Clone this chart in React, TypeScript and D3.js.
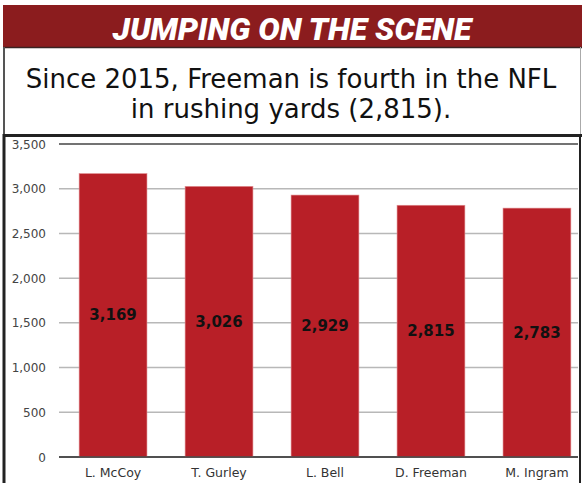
import React from "react";
import * as d3 from "d3";

const players = ["L. McCoy", "T. Gurley", "L. Bell", "D. Freeman", "M. Ingram"];
const yards = [3169, 3026, 2929, 2815, 2783];
const yTicks = [0, 500, 1000, 1500, 2000, 2500, 3000, 3500];

const W = 582;
const H = 483;

export default function App() {
  const x = d3
    .scaleBand<string>()
    .domain(players)
    .range([59, 591])
    .paddingInner(0.36)
    .paddingOuter(0.19);
  const y = d3.scaleLinear().domain([0, 3500]).range([457, 144]);
  const fmt = d3.format(",");
  const font = "'DejaVu Sans', Verdana, sans-serif";

  return (
    <svg
      width={W}
      height={H}
      style={{ position: "absolute", left: 0, top: 0, background: "#fff" }}
    >
      {/* title band */}
      <rect x={3} y={5} width={579} height={42} fill="#8b1c1e" />
      <text
        x={292}
        y={40}
        textAnchor="middle"
        fill="#fff"
        fontFamily="Roboto, 'Liberation Sans', Arial, sans-serif"
        fontWeight="900"
        fontStyle="italic"
        fontSize={32}
      >
        JUMPING ON THE SCENE
      </text>
      <line x1={3} x2={582} y1={47.5} y2={47.5} stroke="#3a2222" strokeWidth={1.5} />
      {/* subtitle box */}
      <line x1={4} x2={4} y1={47} y2={136} stroke="#555" strokeWidth={2} />
      <line x1={580.5} x2={580.5} y1={47} y2={136} stroke="#aaa" strokeWidth={1} />
      <text
        x={291}
        y={88}
        textAnchor="middle"
        fill="#111"
        fontFamily={font}
        fontSize={26}
      >
        Since 2015, Freeman is fourth in the NFL
      </text>
      <text
        x={291}
        y={118}
        textAnchor="middle"
        fill="#111"
        fontFamily={font}
        fontSize={26}
      >
        in rushing yards (2,815).
      </text>
      {/* chart box borders */}
      <line x1={3} x2={582} y1={135.5} y2={135.5} stroke="#222" strokeWidth={3} />
      <line x1={4} x2={4} y1={134} y2={483} stroke="#222" strokeWidth={3} />
      <line x1={580} x2={580} y1={134} y2={483} stroke="#222" strokeWidth={2} />

      {/* gridlines */}
      {yTicks.map((t) => (
        <line
          key={t}
          x1={59}
          x2={578}
          y1={y(t)}
          y2={y(t)}
          stroke={t === 0 || t === 3500 ? "#444" : "#b8b8b8"}
          strokeWidth={1.5}
        />
      ))}
      {/* y tick labels */}
      {yTicks.map((t) => (
        <text
          key={"l" + t}
          x={46}
          y={y(t) + 4.5}
          textAnchor="end"
          fill="#444"
          fontFamily={font}
          fontSize={12}
        >
          {fmt(t)}
        </text>
      ))}
      {/* bars */}
      {players.map((p, i) => (
        <rect
          key={p}
          x={x(p)}
          y={y(yards[i])}
          width={x.bandwidth()}
          height={y(0) - y(yards[i])}
          fill="#b81f27"
          stroke="#e08a8e"
          strokeWidth={0.6}
        />
      ))}
      {players.map((p, i) => (
        <text
          key={"v" + p}
          x={(x(p) as number) + x.bandwidth() / 2}
          y={(y(yards[i]) + y(0)) / 2 + 5}
          textAnchor="middle"
          fill="#111"
          fontFamily={font}
          fontWeight="bold"
          fontSize={15}
        >
          {fmt(yards[i])}
        </text>
      ))}
      {/* baseline */}
      <line x1={59} x2={578} y1={y(0)} y2={y(0)} stroke="#444" strokeWidth={1.5} />
      {/* category labels */}
      {players.map((p) => (
        <text
          key={"c" + p}
          x={(x(p) as number) + x.bandwidth() / 2}
          y={477}
          textAnchor="middle"
          fill="#333"
          fontFamily={font}
          fontSize={12.5}
        >
          {p}
        </text>
      ))}
    </svg>
  );
}
